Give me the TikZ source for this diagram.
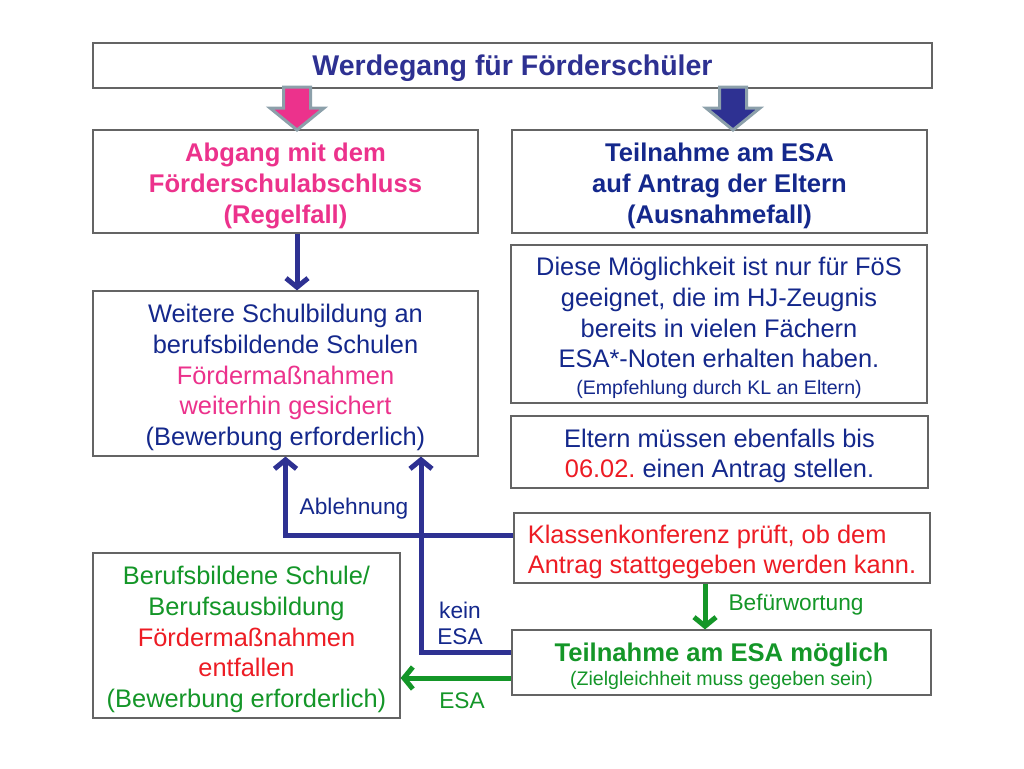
\documentclass[tikz,border=0pt]{standalone}
\usepackage{fontspec}
\setmainfont{Liberation Sans}
\usepackage{xcolor}
\definecolor{ColTitle}{RGB}{46,49,146}
\definecolor{ColText}{RGB}{20,40,140}
\definecolor{ColPink}{RGB}{236,50,140}
\definecolor{ColRed}{RGB}{237,28,36}
\definecolor{ColGreen}{RGB}{20,150,40}
\definecolor{ColFrame}{RGB}{100,100,100}
\definecolor{ColRim}{RGB}{140,160,170}
\usepackage{tikz}
\usetikzlibrary{arrows.meta}
\frenchspacing
\tikzstyle{Box}=[draw=ColFrame,line width=1.2pt,inner sep=0pt,align=center,
text=ColText,font=\fontsize{25.4}{30.6}\selectfont]
\tikzstyle{BoxBold}=[Box,font=\fontsize{25.6}{31}\selectfont\bfseries]
\tikzstyle{Edge}=[draw=ColTitle,line width=5pt,
-{Straight Barb[length=9pt,width=22pt]}]
\tikzstyle{EdgeGreen}=[Edge,draw=ColGreen]
\tikzstyle{BlockArrow}=[draw=ColRim,line width=3pt,line join=miter]
\tikzstyle{Label}=[inner sep=0pt,align=center,font=\fontsize{22.7}{26}\selectfont]
\newcommand{\SmallLine}[1]{{\fontsize{19.6}{24}\selectfont #1}}
\newcommand{\TopStrut}{\rule{0pt}{26.5pt}}

\begin{document}
\begin{tikzpicture}[x=1pt,y=-1pt]
        \useasboundingbox[fill=white](0,0)rectangle(1024,768);
        % boxes
        \node[BoxBold,text=ColTitle,minimum width=839pt,minimum height=45pt,
            font=\fontsize{28.5}{34}\selectfont\bfseries](title)at(512.5,65.5){\TopStrut Werdegang für Förderschüler};
        \node[BoxBold,text=ColPink,minimum width=385pt,minimum height=103pt](abgang)at(285.5,181.5)
            {\TopStrut Abgang mit dem\\Förderschulabschluss\\(Regelfall)};
        \node[BoxBold,minimum width=415pt,minimum height=103pt](antrag)at(719.5,181.5)
            {\TopStrut Teilnahme am ESA\\auf Antrag der Eltern\\(Ausnahmefall)};
        \node[Box,minimum width=385pt,minimum height=165pt](weitere)at(285.5,373.5)
            {\TopStrut Weitere Schulbildung an\\berufsbildende Schulen\\
             \textcolor{ColPink}{Fördermaßnahmen}\\\textcolor{ColPink}{weiterhin gesichert}\\
             (Bewerbung erforderlich)};
        \node[Box,minimum width=416pt,minimum height=158pt](diese)at(719,324)
            {\TopStrut Diese Möglichkeit ist nur für FöS\\geeignet, die im HJ-Zeugnis\\
             bereits in vielen Fächern\\ESA*-Noten erhalten haben.\\[-3.6pt]
             \SmallLine{(Empfehlung durch KL an Eltern)}};
        \node[Box,minimum width=417pt,minimum height=72pt](eltern)at(719.5,452)
            {\TopStrut Eltern müssen ebenfalls bis\\\textcolor{ColRed}{06.02.} einen Antrag stellen.};
        \node[Box,text=ColRed,align=left,minimum width=416pt,minimum height=70pt](konferenz)at(722,548)
            {\TopStrut Klassenkonferenz prüft, ob dem\\Antrag stattgegeben werden kann.};
        \node[Box,text=ColGreen,minimum width=307pt,minimum height=165pt](berufs)at(246.5,635.5)
            {\TopStrut Berufsbildene Schule/\\Berufsausbildung\\
             \textcolor{ColRed}{Fördermaßnahmen}\\\textcolor{ColRed}{entfallen}\\
             (Bewerbung erforderlich)};
        \node[BoxBold,text=ColGreen,minimum width=419pt,minimum height=65pt](moeglich)at(721.5,662.5)
            {\TopStrut Teilnahme am ESA möglich\\[-7pt]
             \SmallLine{\mdseries(Zielgleichheit muss gegeben sein)}};
        % block arrows
        \draw[BlockArrow,fill=ColPink](283.5,87)--(310.5,87)--(310.5,108)--(324,108)
            --(297,130)--(270,108)--(283.5,108)--cycle;
        \draw[BlockArrow,fill=ColTitle](719.5,87)--(746.5,87)--(746.5,108)--(760,108)
            --(733,130)--(706,108)--(719.5,108)--cycle;
        % connectors
        \draw[Edge]([xshift=11.5pt]abgang.south)--([xshift=11.5pt]weitere.north);
        \draw[Edge]([yshift=13pt]konferenz.west)-|(weitere.south);
        \draw[Edge]([yshift=10.5pt]moeglich.west)-|([xshift=135.5pt]weitere.south);
        \draw[EdgeGreen]([xshift=-17pt]konferenz.south)--([xshift=-16.5pt]moeglich.north);
        \draw[EdgeGreen]([yshift=-15.5pt]moeglich.west)--([yshift=-15.5pt]moeglich.west-|berufs.east);
        % labels
        \node[Label,text=ColText](ablehnung)at(354,509){Ablehnung};
        \node[Label,text=ColText](keinesa)at(460,623){kein\\ESA};
        \node[Label,text=ColGreen](esa)at(462,701){ESA};
        \node[Label,text=ColGreen](befuerwortung)at(796,605){Befürwortung};
    \end{tikzpicture}
\end{document}
